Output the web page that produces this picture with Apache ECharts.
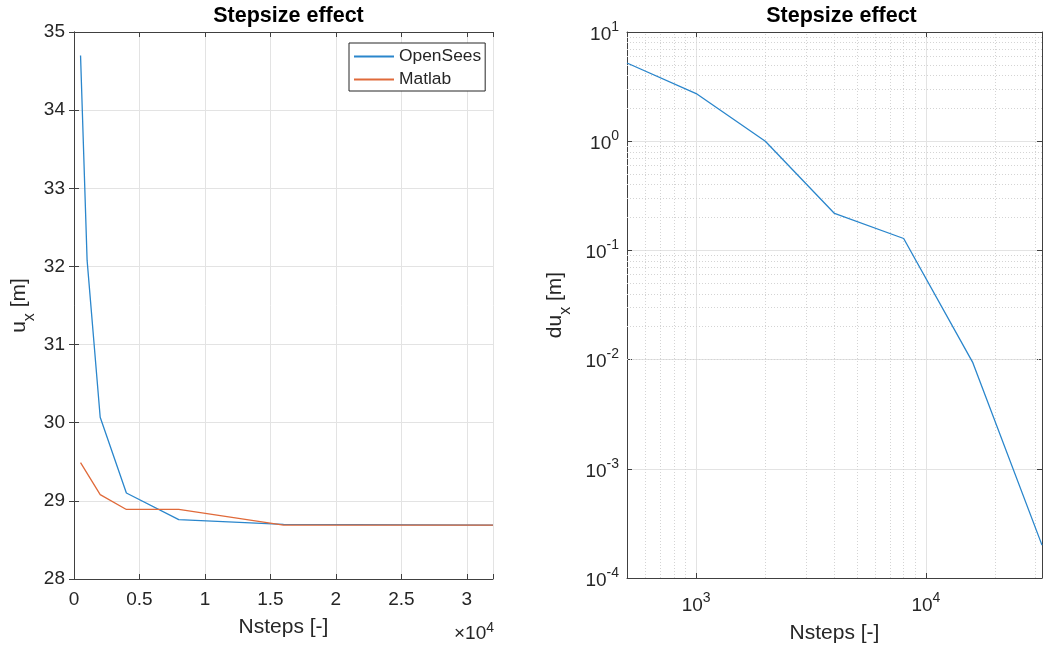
<!DOCTYPE html>
<html><head><meta charset="utf-8">
<script src="https://cdn.jsdelivr.net/npm/echarts@6/dist/echarts.min.js"></script>
<style>html,body{margin:0;padding:0;background:#fff}#c{width:1045px;height:649px}</style>
</head><body><div id="c"></div>
<script>
// ---- data ----
const titleText = 'Stepsize effect';
const nsteps = [500, 1000, 2000, 4000, 8000, 16000, 32000];
const opensees = [34.70, 32.08, 30.07, 29.10, 28.76, 28.70, 28.69];
const matlabSteps = [500, 2000, 4000, 8000, 16000, 32000];
const matlab = [29.49, 29.08, 28.89, 28.89, 28.69, 28.69];
const dux = [5.2, 2.73, 1.0, 0.218, 0.1285, 0.00937, 0.0002];
const minorX = [600, 700, 800, 900, 2000, 3000, 4000, 5000, 6000, 7000, 8000, 9000, 20000, 30000];
const minorY = [2e-4,3e-4,4e-4,5e-4,6e-4,7e-4,8e-4,9e-4,
                2e-3,3e-3,4e-3,5e-3,6e-3,7e-3,8e-3,9e-3,
                2e-2,3e-2,4e-2,5e-2,6e-2,7e-2,8e-2,9e-2,
                0.2,0.3,0.4,0.5,0.6,0.7,0.8,0.9,
                2,3,4,5,6,7,8,9];
const legendNames = ['OpenSees', 'Matlab'];
const colors = ['#2a86cc', '#e06a3a'];

// ---- style ----
const FONT = "'Liberation Sans', Arial, Helvetica, sans-serif";
const TXT = '#262626';
const AX = '#404040';
const GRIDC = '#e3e3e3';

const chart = echarts.init(document.getElementById('c'), null, {renderer: 'canvas'});

function pow10Label(v) {
  const e = Math.round(Math.log10(v));
  if (Math.abs(v - Math.pow(10, e)) / Math.pow(10, e) > 1e-6) return '';
  return '{b|10}{s|' + e + '}';
}
const powRich = {
  b: {fontSize: 19, fontFamily: FONT, color: TXT, lineHeight: 24, verticalAlign: 'bottom'},
  s: {fontSize: 14, fontFamily: FONT, color: TXT, lineHeight: 14, verticalAlign: 'top'}
};
const nameRich = {
  a: {fontSize: 21, fontFamily: FONT, color: TXT, lineHeight: 29, verticalAlign: 'top'},
  s: {fontSize: 16, fontFamily: FONT, color: TXT, lineHeight: 16, verticalAlign: 'bottom'}
};
const axLine = {show: true, lineStyle: {color: AX, width: 1}};
const tickIn = {show: true, inside: true, length: 5, lineStyle: {color: AX, width: 1}};
const split = {show: true, lineStyle: {color: GRIDC, width: 1}};
const titleStyle = {fontFamily: FONT, fontSize: 21.5, fontWeight: 'bold', color: '#000'};

const option = {
  backgroundColor: '#fff',
  animation: false,
  title: [
    {text: titleText, left: 283.5, top: 0, textAlign: 'center', textStyle: titleStyle},
    {text: titleText, left: 836.5, top: 0, textAlign: 'center', textStyle: titleStyle}
  ],
  legend: {
    data: legendNames, orient: 'vertical', left: 349, top: 43,
    padding: [5, 4, 3, 4], itemGap: 6, itemWidth: 40, itemHeight: 14,
    itemStyle: {opacity: 0},
    borderColor: '#262626', borderWidth: 1, backgroundColor: '#fff',
    textStyle: {fontFamily: FONT, fontSize: 17.4, color: TXT}
  },
  grid: [
    {left: 74, top: 32, width: 419, height: 547},
    {left: 627, top: 32, width: 419, height: 546}
  ],
  xAxis: [
    {gridIndex: 0, type: 'value', min: 0, max: 32000, interval: 5000, position: 'bottom',
     axisLine: axLine, axisTick: tickIn, splitLine: split,
     name: 'Nsteps [-]', nameLocation: 'middle', nameGap: 38,
     nameTextStyle: {fontFamily: FONT, fontSize: 21, color: TXT},
     axisLabel: {margin: 11, fontFamily: FONT, fontSize: 19, color: TXT,
       formatter: v => (v % 5000 === 0 ? String(v / 10000) : '')}},
    {gridIndex: 0, type: 'value', min: 0, max: 32000, interval: 5000, position: 'top',
     axisLine: axLine, axisTick: tickIn, splitLine: {show: false}, axisLabel: {show: false}},
    {gridIndex: 1, type: 'log', logBase: 10, min: 500, max: 32000, position: 'bottom',
     axisLine: axLine, axisTick: tickIn, splitLine: split,
     name: 'Nsteps [-]', nameLocation: 'middle', nameGap: 45,
     nameTextStyle: {fontFamily: FONT, fontSize: 21, color: TXT},
     axisLabel: {margin: 13, formatter: pow10Label, rich: powRich}},
    {gridIndex: 1, type: 'log', logBase: 10, min: 500, max: 32000, position: 'top',
     axisLine: axLine, axisTick: tickIn, splitLine: {show: false}, axisLabel: {show: false}}
  ],
  yAxis: [
    {gridIndex: 0, type: 'value', min: 28, max: 35, interval: 1, position: 'left',
     axisLine: axLine, axisTick: tickIn, splitLine: split,
     name: '{a|u}{s|x}{a| [m]}', nameLocation: 'middle', nameRotate: 90, nameGap: 36,
     nameTextStyle: {rich: nameRich},
     axisLabel: {margin: 9, fontFamily: FONT, fontSize: 19, color: TXT}},
    {gridIndex: 0, type: 'value', min: 28, max: 35, interval: 1, position: 'right',
     axisLine: axLine, axisTick: tickIn, splitLine: {show: false}, axisLabel: {show: false}},
    {gridIndex: 1, type: 'log', logBase: 10, min: 1e-4, max: 10, position: 'left',
     axisLine: axLine, axisTick: tickIn, splitLine: split,
     name: '{a|du}{s|x}{a| [m]}', nameLocation: 'middle', nameRotate: 90, nameGap: 53,
     nameTextStyle: {rich: nameRich},
     axisLabel: {margin: 8, formatter: pow10Label, rich: powRich}},
    {gridIndex: 1, type: 'log', logBase: 10, min: 1e-4, max: 10, position: 'right',
     axisLine: axLine, axisTick: tickIn, splitLine: {show: false}, axisLabel: {show: false}}
  ],
  graphic: [
    {type: 'text', right: 1045 - 494, top: 621,
     style: {text: '{b|×10}{s|4}', rich: {
       b: {fontSize: 19, fontFamily: FONT, fill: TXT, color: TXT, lineHeight: 22, verticalAlign: 'bottom'},
       s: {fontSize: 14, fontFamily: FONT, fill: TXT, color: TXT, lineHeight: 14, verticalAlign: 'top'}}}}
  ],
  series: [
    {name: legendNames[0], type: 'line', xAxisIndex: 0, yAxisIndex: 0, symbol: 'none',
     color: colors[0], lineStyle: {width: 1.3, color: colors[0]},
     data: nsteps.map((x, i) => [x, opensees[i]])},
    {name: legendNames[1], type: 'line', xAxisIndex: 0, yAxisIndex: 0, symbol: 'none',
     color: colors[1], lineStyle: {width: 1.3, color: colors[1]},
     data: matlabSteps.map((x, i) => [x, matlab[i]])},
    {name: 'du', type: 'line', xAxisIndex: 2, yAxisIndex: 2, symbol: 'none',
     color: colors[0], lineStyle: {width: 1.3, color: colors[0]},
     data: nsteps.map((x, i) => [x, dux[i]]),
     markLine: {
       silent: true, symbol: 'none', z: 1, animation: false,
       label: {show: false},
       lineStyle: {type: [1, 2], color: '#d4d4d4', width: 1},
       data: minorX.map(v => ({xAxis: v})).concat(minorY.map(v => ({yAxis: v})))
     }}
  ]
};
chart.setOption(option);
</script>
</body></html>
